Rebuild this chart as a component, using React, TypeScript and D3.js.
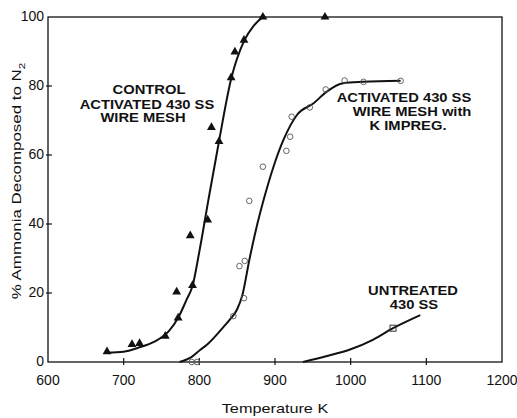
import { useMemo } from "react";
import * as d3 from "d3";

const W = 517;
const H = 418;
const MARGIN = { top: 17, right: 15, bottom: 56, left: 48 };

// control: activated 430 SS wire mesh (triangles)
const controlPoints = [
  [678, 3.0], [711, 5.1], [721, 5.4], [755, 7.5], [770, 20.3], [772, 12.8],
  [788, 36.6], [791, 22.2], [811, 41.2], [816, 68.0], [826, 63.9], [842, 82.4],
  [847, 89.9], [859, 93.3], [884, 100], [966, 100],
];
const controlCurve = [
  [678, 2.7], [700, 3], [720, 4.2], [740, 5.8], [760, 9], [772, 12.8],
  [783, 18], [791, 22], [800, 32], [812, 47], [826, 64], [842, 82],
  [859, 93], [872, 97.5], [884, 100],
];

// activated with K impregnation (open circles)
const kPoints = [
  [790, 0], [797, 0], [845, 13.3], [853, 27.8], [859, 18.5], [860, 29.3],
  [866, 46.7], [884, 56.6], [915, 61.2], [920, 65.3], [922, 71.1], [946, 73.8],
  [967, 79], [992, 81.6], [1017, 81.2], [1066, 81.5],
];
const kCurve = [
  [774, 0], [790, 1.5], [801, 3.5], [810, 5], [820, 7.2], [832, 10.2],
  [840, 12.2], [850, 15.3], [857, 19.5], [866, 29.5], [875, 38.5], [885, 47],
  [898, 56.6], [911, 64.3], [929, 71.6], [951, 75], [968, 78.3], [990, 80.8],
  [1017, 81.2], [1066, 81.5],
];

// untreated 430 SS (square)
const untreatedPoints = [[1056, 9.8]];
const untreatedCurve = [
  [937, 0], [970, 1.8], [1000, 3.7], [1030, 6.5], [1056, 9.8], [1092, 13.6],
];

const xTicks = [600, 700, 800, 900, 1000, 1100, 1200];
const yTicks = [0, 20, 40, 60, 80, 100];

const FONT = "'Liberation Sans', Arial, sans-serif";

// the original lettering is wider than Arial, stretch it sideways
const Wide = ({ x, y, sx = 1.18, children }: any) => (
  <text transform={`translate(${x},${y}) scale(${sx},1)`}>{children}</text>
);

export default function App() {
  const boundsWidth = W - MARGIN.left - MARGIN.right;
  const boundsHeight = H - MARGIN.top - MARGIN.bottom;

  const xScale = useMemo(
    () => d3.scaleLinear().domain([600, 1200]).range([0, boundsWidth]),
    [boundsWidth]
  );
  const yScale = useMemo(
    () => d3.scaleLinear().domain([0, 100]).range([boundsHeight, 0]),
    [boundsHeight]
  );

  const line = d3
    .line<number[]>()
    .x((d) => xScale(d[0]))
    .y((d) => yScale(d[1]))
    .curve(d3.curveMonotoneX);

  const tri = d3.symbol().type(d3.symbolTriangle).size(34)();

  return (
    <svg
      width={W}
      height={H}
      style={{ position: "absolute", left: 0, top: 0, background: "white" }}
      fontFamily={FONT}
    >
      <g transform={`translate(${MARGIN.left},${MARGIN.top})`}>
        {/* frame */}
        <rect
          x={0}
          y={0}
          width={boundsWidth}
          height={boundsHeight}
          fill="none"
          stroke="#111"
          strokeWidth={1.3}
        />

        {/* x ticks */}
        {xTicks.map((t) => (
          <g key={t}>
            {t > 600 && t < 1200 && (
              <line
                x1={xScale(t)}
                x2={xScale(t)}
                y1={boundsHeight - 4}
                y2={boundsHeight + 3}
                stroke="#111"
                strokeWidth={1.2}
              />
            )}
            <text
              x={xScale(t)}
              y={boundsHeight + 23}
              textAnchor="middle"
              fontSize={14}
              fill="#111"
            >
              {t}
            </text>
          </g>
        ))}

        {/* y ticks */}
        {yTicks.map((t) => (
          <g key={t}>
            {t > 0 && t < 100 && (
              <line
                x1={-2}
                x2={4}
                y1={yScale(t)}
                y2={yScale(t)}
                stroke="#111"
                strokeWidth={1.2}
              />
            )}
            <text
              x={-4}
              y={yScale(t)}
              textAnchor="end"
              dominantBaseline="middle"
              fontSize={14}
              fill="#111"
            >
              {t}
            </text>
          </g>
        ))}

        {/* curves */}
        <path d={line(controlCurve) ?? ""} fill="none" stroke="#111" strokeWidth={2} />
        <path d={line(kCurve) ?? ""} fill="none" stroke="#111" strokeWidth={2} />
        <path d={line(untreatedCurve) ?? ""} fill="none" stroke="#111" strokeWidth={2} />

        {/* markers */}
        {controlPoints.map((d, i) => (
          <path
            key={i}
            d={tri ?? ""}
            transform={`translate(${xScale(d[0])},${yScale(d[1])})`}
            fill="#111"
          />
        ))}
        {kPoints.map((d, i) => (
          <circle
            key={i}
            cx={xScale(d[0])}
            cy={yScale(d[1])}
            r={2.8}
            fill="none"
            stroke="#555"
            strokeWidth={0.9}
          />
        ))}
        {untreatedPoints.map((d, i) => (
          <rect
            key={i}
            x={xScale(d[0]) - 3}
            y={yScale(d[1]) - 3}
            width={6}
            height={6}
            fill="none"
            stroke="#333"
            strokeWidth={1}
          />
        ))}
      </g>

      {/* annotations */}
      <g fontSize={12.5} fontWeight="bold" fill="#111" textAnchor="middle">
        <Wide x={149} y={94}>CONTROL</Wide>
        <Wide x={147} y={109}>ACTIVATED 430 SS</Wide>
        <Wide x={143} y={122}>WIRE MESH</Wide>

        <Wide x={404} y={102}>ACTIVATED 430 SS</Wide>
        <Wide x={412} y={116}>WIRE MESH with</Wide>
        <Wide x={408} y={130}>K IMPREG.</Wide>

        <Wide x={413} y={295}>UNTREATED</Wide>
        <Wide x={414} y={309}>430 SS</Wide>
      </g>

      {/* axis titles */}
      <g fontSize={13} fill="#111" textAnchor="middle">
        <Wide x={(MARGIN.left + W - MARGIN.right) / 2} y={413} sx={1.25}>
          Temperature K
        </Wide>
        <text transform={`translate(21,181) rotate(-90) scale(1.3,1)`}>
          % Ammonia Decomposed to N
          <tspan fontSize={9} dy={4}>2</tspan>
        </text>
      </g>
    </svg>
  );
}
